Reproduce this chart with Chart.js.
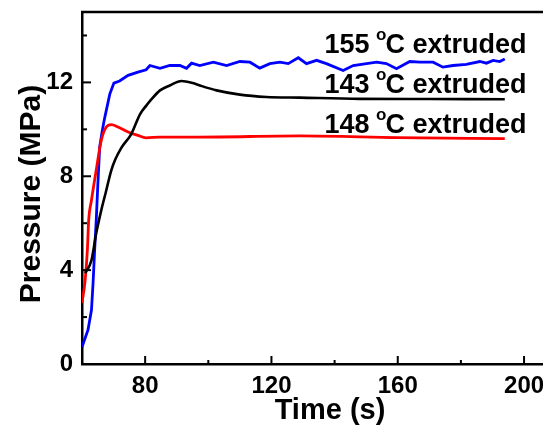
<!DOCTYPE html>
<html>
<head>
<meta charset="utf-8">
<script src="https://cdn.jsdelivr.net/npm/chart.js@4.4.1/dist/chart.umd.min.js"></script>
<style>
  html, body { margin: 0; padding: 0; background: #fff; overflow: hidden; }
  #wrap { width: 543px; height: 427px; }
</style>
</head>
<body>
<div id="wrap"><canvas id="pressureChart" width="543" height="427"></canvas></div>
<script>
// values
const time155 = [60, 61.9, 63, 63.5, 64, 64.5, 65, 65.6, 66.5, 67.2, 68.8, 70.1, 71.9, 74.6, 77.7, 80.3, 81.5, 84.7, 87.8, 91, 93.1, 94.7,
                 97.3, 101.6, 105.8, 110, 113.2, 116.3, 119.5, 122.7, 125.3, 128.5, 131.1, 134.3, 137.4, 142.7, 145.9, 150.1,
                 153.3, 156.4, 159.6, 163.8, 167, 171.2, 174.3, 177.5, 181.7, 186, 188.1, 190.2, 192.3, 193.9];
const pressure155 = [0.72, 1.45, 2.3, 3.44, 4.85, 6.1, 7.6, 9.25, 10.0, 10.5, 11.5, 11.97, 12.06, 12.3, 12.44, 12.54, 12.72, 12.6, 12.72, 12.72, 12.6, 12.82,
                     12.72, 12.86, 12.72, 12.89, 12.86, 12.61, 12.8, 12.86, 12.8, 13.05, 12.8, 12.94, 12.8, 12.51, 12.72, 12.8,
                     12.86, 12.8, 12.58, 12.89, 12.86, 12.86, 12.65, 12.72, 12.77, 12.89, 12.82, 12.94, 12.89, 13.0];

const time143 = [61, 63, 64.5, 66.1, 67.5, 69.3, 70.5, 72.4, 75.6, 78.4, 80.3, 81.5, 84.7, 87.8, 91.5, 95.1, 97.3, 102.6, 110, 118.4, 129, 148, 170, 193.9];
const pressure143 = [3.87, 4.42, 5.57, 6.55, 7.3, 8.26, 8.7, 9.2, 9.8, 10.65, 11.0, 11.2, 11.66, 11.87, 12.06, 11.97, 11.87, 11.66, 11.48, 11.38, 11.35, 11.3, 11.29, 11.28];

const time148 = [60, 61, 61.7, 62.1, 63, 64.5, 66.1, 67.7, 69.3, 71.4, 74.6, 77.7, 80.3, 84.7, 97, 129, 160, 193.9];
const pressure148 = [2.6, 3.57, 4.85, 6.1, 6.98, 8.26, 9.53, 10.1, 10.2, 10.1, 9.89, 9.74, 9.64, 9.67, 9.67, 9.72, 9.65, 9.6];

const seriesNames = ["155", "143", "148"];
const xTickLabels = [80, 120, 160, 200];
const yTickLabels = [0, 4, 8, 12];
const xTickValues = [60, 80, 100, 120, 140, 160, 180, 200];
const yTickValues = [0, 2, 4, 6, 8, 10, 12, 14];

function toPoints(xs, ys) {
    return xs.map(function (x, i) { return { x: x, y: ys[i] }; });
}

const FONT = '"Liberation Sans", Arial, sans-serif';

// curve labels, placed in data units
const curveLabels = [
    { name: seriesNames[0], x: 136.8, y: 13.25 },
    { name: seriesNames[1], x: 136.8, y: 11.56 },
    { name: seriesNames[2], x: 136.8, y: 9.83 }
];

const decorPlugin = {
    id: "decor",
    afterDraw: function (chart) {
        const ctx = chart.ctx;
        const area = chart.chartArea;
        const xs = chart.scales.x;
        const ys = chart.scales.y;

        ctx.save();
        ctx.strokeStyle = "#000";
        ctx.lineWidth = 2.5;

        // top frame line
        ctx.beginPath();
        ctx.moveTo(area.left - 1, area.top);
        ctx.lineTo(area.right, area.top);
        ctx.stroke();

        // inward tick marks, major and minor
        ctx.lineWidth = 2;
        xs.ticks.forEach(function (t) {
            if (t.value <= xs.min || t.value >= xs.max) return;
            const px = xs.getPixelForValue(t.value);
            const len = xTickLabels.includes(t.value) ? 8 : 4;
            ctx.beginPath();
            ctx.moveTo(px, area.bottom);
            ctx.lineTo(px, area.bottom - len);
            ctx.stroke();
        });
        ys.ticks.forEach(function (t) {
            if (t.value <= ys.min || t.value >= ys.max) return;
            const py = ys.getPixelForValue(t.value);
            const len = yTickLabels.includes(t.value) ? 9 : 5;
            ctx.beginPath();
            ctx.moveTo(area.left, py);
            ctx.lineTo(area.left + len, py);
            ctx.stroke();
        });

        // axis titles
        ctx.fillStyle = "#000";
        ctx.textAlign = "center";
        ctx.textBaseline = "alphabetic";
        ctx.font = "bold 29px " + FONT;
        ctx.fillText("Time (s)", 330, 419);

        ctx.save();
        ctx.translate(40, 194);
        ctx.rotate(-Math.PI / 2);
        ctx.font = "bold 30px " + FONT;
        ctx.fillText("Pressure (MPa)", 0, 0);
        ctx.restore();

        // curve labels with superscript degree
        ctx.textAlign = "left";
        curveLabels.forEach(function (lab) {
            let x = xs.getPixelForValue(lab.x);
            const y = ys.getPixelForValue(lab.y);
            ctx.font = "bold 27px " + FONT;
            const first = lab.name + " ";
            ctx.fillText(first, x, y);
            x += ctx.measureText(first).width;
            ctx.font = "bold 17px " + FONT;
            ctx.fillText("o", x - 1, y - 13);
            x += ctx.measureText("o").width - 2;
            ctx.font = "bold 27px " + FONT;
            ctx.fillText("C extruded", x, y);
        });

        ctx.restore();
    }
};

const ctx = document.getElementById("pressureChart").getContext("2d");
const chart = new Chart(ctx, {
    type: "line",
    data: {
        datasets: [
            {
                label: seriesNames[1],
                data: toPoints(time143, pressure143),
                borderColor: "#000000",
                borderWidth: 2.6,
                pointRadius: 0,
                cubicInterpolationMode: "monotone",
                fill: false
            },
            {
                label: seriesNames[2],
                data: toPoints(time148, pressure148),
                borderColor: "#ff0000",
                borderWidth: 2.8,
                pointRadius: 0,
                cubicInterpolationMode: "monotone",
                fill: false
            },
            {
                label: seriesNames[0],
                data: toPoints(time155, pressure155),
                borderColor: "#0000ff",
                borderWidth: 2.8,
                pointRadius: 0,
                tension: 0,
                fill: false
            }
        ]
    },
    options: {
        responsive: false,
        animation: false,
        events: [],
        layout: { padding: { left: 0, top: 12, right: 0, bottom: 0 } },
        plugins: {
            legend: { display: false },
            tooltip: { enabled: false }
        },
        scales: {
            x: {
                type: "linear",
                min: 60,
                max: 206,
                grid: { drawOnChartArea: false, drawTicks: false },
                border: { display: true, color: "#000", width: 2.5 },
                ticks: {
                    autoSkip: false,
                    maxRotation: 0,
                    padding: 8,
                    color: "#000",
                    font: { family: FONT, size: 24, weight: "bold" },
                    callback: function (v) { return xTickLabels.includes(v) ? String(v) : ""; }
                },
                afterBuildTicks: function (scale) {
                    scale.ticks = xTickValues.map(function (v) { return { value: v }; });
                },
                afterFit: function (scale) {
                    scale.height = 63;
                    scale.paddingLeft = 0;
                    scale.paddingRight = 0;
                }
            },
            y: {
                type: "linear",
                min: 0,
                max: 15,
                grid: { drawOnChartArea: false, drawTicks: false },
                border: { display: true, color: "#000", width: 2.5 },
                ticks: {
                    autoSkip: false,
                    padding: 9,
                    color: "#000",
                    font: { family: FONT, size: 24, weight: "bold" },
                    callback: function (v) { return yTickLabels.includes(v) ? String(v) : ""; }
                },
                afterBuildTicks: function (scale) {
                    scale.ticks = yTickValues.map(function (v) { return { value: v }; });
                },
                afterFit: function (scale) {
                    scale.width = 82;
                    scale.paddingTop = 0;
                    scale.paddingBottom = 0;
                }
            }
        }
    },
    plugins: [decorPlugin]
});
</script>
</body>
</html>
